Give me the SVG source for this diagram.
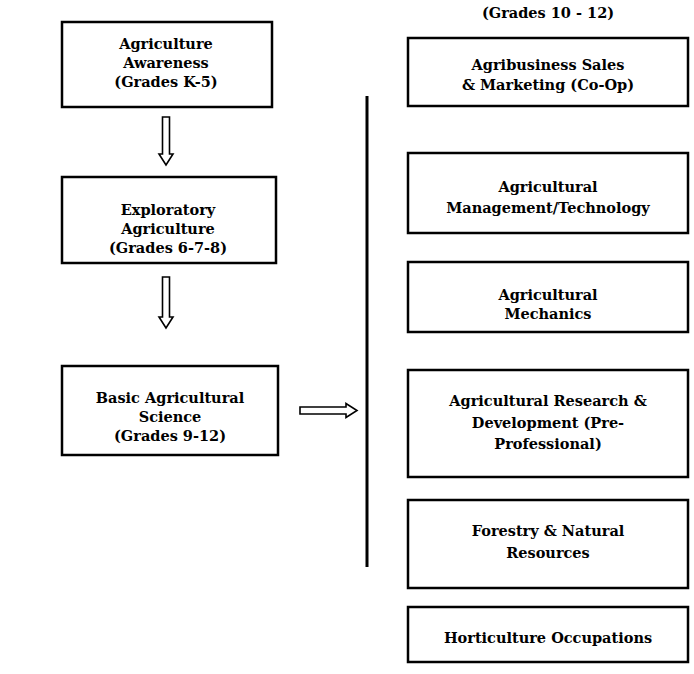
<svg xmlns="http://www.w3.org/2000/svg" width="694" height="674" viewBox="0 0 694 674">
<style>
.box{fill:#fff;stroke:#000;stroke-width:2.5}
.t{font-family:"DejaVu Serif","Liberation Serif",serif;font-weight:bold;font-size:14.5px;fill:#000;text-anchor:middle;dominant-baseline:central}
.arr{fill:#fff;stroke:#000;stroke-width:1.6;stroke-linejoin:miter}
.vline{stroke:#000;stroke-width:3}
</style>
<rect width="694" height="674" fill="#fff"/>
<text class="t" x="548" y="12">(Grades 10 - 12)</text>
<g id="n1"><rect class="box" x="62" y="22" width="210" height="85"/>
<text class="t" x="166" y="43">Agriculture</text><text class="t" x="166" y="62">Awareness</text><text class="t" x="166" y="81">(Grades K-5)</text></g>
<g id="n2"><rect class="box" x="62" y="177" width="214" height="86"/>
<text class="t" x="168" y="209">Exploratory</text><text class="t" x="168" y="228">Agriculture</text><text class="t" x="168" y="247">(Grades 6-7-8)</text></g>
<g id="n3"><rect class="box" x="62" y="366" width="216" height="89"/>
<text class="t" x="170" y="397">Basic Agricultural</text><text class="t" x="170" y="416">Science</text><text class="t" x="170" y="435">(Grades 9-12)</text></g>
<g id="r1"><rect class="box" x="408" y="38" width="280" height="68"/>
<text class="t" x="548" y="64">Agribusiness Sales</text><text class="t" x="548" y="84">&amp; Marketing (Co-Op)</text></g>
<g id="r2"><rect class="box" x="408" y="153" width="280" height="80"/>
<text class="t" x="548" y="186">Agricultural</text><text class="t" x="548" y="207">Management/Technology</text></g>
<g id="r3"><rect class="box" x="408" y="262" width="280" height="70"/>
<text class="t" x="548" y="294">Agricultural</text><text class="t" x="548" y="313">Mechanics</text></g>
<g id="r4"><rect class="box" x="408" y="370" width="280" height="107"/>
<text class="t" x="548" y="400">Agricultural Research &amp;</text><text class="t" x="548" y="422">Development (Pre-</text><text class="t" x="548" y="443">Professional)</text></g>
<g id="r5"><rect class="box" x="408" y="500" width="280" height="88"/>
<text class="t" x="548" y="530">Forestry &amp; Natural</text><text class="t" x="548" y="552">Resources</text></g>
<g id="r6"><rect class="box" x="408" y="607" width="280" height="55"/>
<text class="t" x="548" y="637">Horticulture Occupations</text></g>
<g id="connectors">
<path class="arr" d="M162.5,117 H169.5 V154 H173 L166,165 L159,154 H162.5 Z"/>
<path class="arr" d="M162.5,277 H169.5 V317 H173 L166,328 L159,317 H162.5 Z"/>
<path class="arr" d="M300,407 H346 V403.5 L357,410.5 L346,417.5 V414 H300 Z"/>
<line class="vline" x1="367" y1="96" x2="367" y2="567"/>
</g>
</svg>
